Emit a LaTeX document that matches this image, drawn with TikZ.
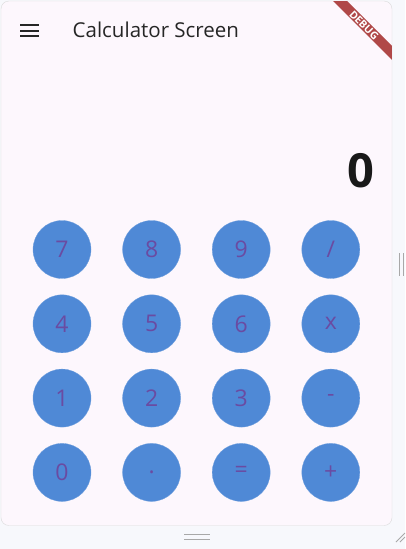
\documentclass[tikz,border=0pt]{standalone}
\usepackage{fontspec}
\setmainfont{Open Sans}
\usetikzlibrary{positioning}
\definecolor{pagebg}{HTML}{F7F8FC}
\definecolor{cardbg}{HTML}{FDF7FD}
\definecolor{keyblue}{HTML}{4F89D6}
\definecolor{keytext}{HTML}{6A4BA2}
\definecolor{ribbonred}{HTML}{B04848}
\definecolor{grip}{HTML}{A8A8A8}
\tikzset{
   key/.style={
      circle,
      fill=keyblue,
      draw=keyblue!80!white,
      line width=.3pt,
      minimum size=58pt,
      inner sep=0pt,
      text=keytext,
      font=\fontsize{23}{23}\selectfont
   }
}
\begin{document}
\begin{tikzpicture}[x=1pt,y=-1pt]
   \fill[pagebg] (0,0) rectangle (405,549);
   \useasboundingbox (0,0) rectangle (405,549);

   % card
   \draw[black!14, fill=cardbg, rounded corners=8pt] (1,1) rectangle (392,525.5);

   % debug ribbon
   \begin{scope}
   \clip[rounded corners=8pt] (1,1) rectangle (392,525.5);
   \fill[ribbonred] (332,0) -- (346,0) -- (392,46) -- (392,60) -- cycle;
   \end{scope}
   \node[name=debug, rotate=-45, text=white, inner sep=0pt,
      font=\bfseries\fontsize{10.5}{10.5}\selectfont] at (364,25.5) {DEBUG};

   % app bar
   \foreach \y in {25,30.5,36}
   \draw[black!85, line width=2pt] (20,\y) -- (38.5,\y);
   \node[name=title, anchor=west, inner sep=0pt, text=black!85,
      font=\fontsize{20.5}{20.5}\selectfont] at (72.5,30) {Calculator Screen};

   % display
   \node[name=display, anchor=east, inner sep=0pt, text=black!90,
      font=\bfseries\fontsize{47}{47}\selectfont] at (375,171) {0};

   % keys
   \foreach \lab [count=\i from 0] in {7,8,9,/,4,5,6,x,1,2,3,-,0,.,=,+} {
      \pgfmathtruncatemacro{\c}{mod(\i,4)}
      \pgfmathtruncatemacro{\r}{div(\i,4)}
      \node[key] (k\i) at ({62+89.6*\c},{249.5+74.3*\r}) {\lab};
   }

   % window grips
   \draw[grip, line width=1pt] (399.5,253) -- (399.5,276) (403,253) -- (403,276);
   \draw[grip, line width=1pt] (184,534.5) -- (210,534.5) (184,539) -- (210,539);
   \draw[grip, line width=.8pt] (396,542) -- (405,533) (400,542) -- (405,537);
\end{tikzpicture}
\end{document}
